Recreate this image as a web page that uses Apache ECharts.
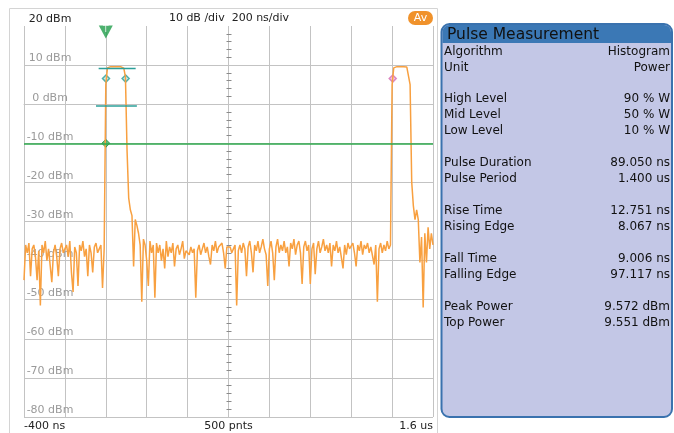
<!DOCTYPE html>
<html lang="en">
<head>
<meta charset="UTF-8">
<title>Pulse Measurement</title>
<style>
    html, body { margin: 0; padding: 0; background: #fff; }
    #app { width: 674px; height: 433px; }
</style>
</head>
<body>
<div id="app"></div>
<script src="https://cdn.jsdelivr.net/npm/echarts@6.0.0/dist/echarts.min.js"></script>
<script>
    // trace: 8 ns per sample starting at -400 ns, one row per 200 ns division (dBm)
    var T0 = -400, DT = 8;
    var div0 = [-45, -36, -38, -35.5, -44, -37, -36, -39, -45, -37.5, -51.5, -36, -38, -35, -40, -37, -36.5, -45.5, -38, -36, -39, -44, -37, -35.5, -38];
    var div1 = [-37, -36, -39, -35, -43, -48, -36.5, -38, -46.5, -36, -37.5, -35, -39, -37, -44, -36, -38, -43, -36.5, -35.5, -38, -37, -36, -47, -37];
    var div2 = [5, 9.3, 9.6, 9.6, 9.5, 9.6, 9.5, 9.6, 9.5, 9.6, 9.5, 9.2, 7, -12, -24, -27, -28.5, -41.5, -29.5, -31, -33, -36, -50.5, -34.5, -36];
    var div3 = [-40, -46.5, -35, -38, -36, -49.5, -35.5, -38, -36, -40, -37, -42, -35, -39, -36.5, -38, -35.5, -41.5, -37, -36, -38.5, -37, -35, -39.5, -37.5];
    var div4 = [-37, -38.5, -36.5, -38, -37, -49.5, -37.5, -36, -38.5, -37, -35.5, -38, -36.5, -39, -41, -36, -37.5, -35, -38, -36.5, -37, -35.5, -38, -42, -36.5];
    var div5 = [-37, -36.5, -38, -37, -36, -51.5, -37.5, -36, -38, -35.5, -37, -44, -36.5, -35, -38, -43, -36, -37.5, -35, -38, -36.5, -34.5, -37, -38.5, -46.5];
    var div6 = [-37, -35, -38, -45, -36.5, -34.5, -38, -36, -37.5, -35, -38, -36.5, -41.5, -35.5, -37, -34.5, -38.5, -36, -35, -38, -46, -36.5, -35, -37.5, -36];
    var div7 = [-46, -37, -35.5, -43.5, -37, -35, -38, -36.5, -34.5, -37.5, -36, -38, -35.5, -41.5, -36, -37.5, -35, -38, -36.5, -37, -42, -36, -38.5, -35.5, -37];
    var div8 = [-37, -35.5, -38, -41.5, -36, -37.5, -35, -38.5, -36, -37, -35.5, -38, -36.5, -37, -41, -36, -50.5, -37, -35.5, -38, -36, -37.5, -35, -37, -36];
    var div9 = [5, 9.3, 9.5, 9.6, 9.5, 9.6, 9.5, 9.6, 9.5, 9.5, 9.3, 5, -20, -26, -29.5, -27, -29.5, -40.5, -34, -52, -33, -40.5, -31.5, -37, -33, -36];

    // measurement markers
    var highLine = [[-35, 9.1], [146, 9.1]];
    var lowLine = [[-48, -0.45], [152, -0.45]];
    var midPoints = [[1, 6.55], [97, 6.55]];
    var pulse2Point = [[1403, 6.55]];
    var trigLevel = -10;
    var trigTime = 0;

    // axis text
    var xTickValues = [-400, 600, 1600];
    var xTickText = ['-400 ns', '500 pnts', '1.6 us'];

    // side panel
    var panelLabels = ['Algorithm', 'Unit', '', 'High Level', 'Mid Level', 'Low Level', '',
        'Pulse Duration', 'Pulse Period', '', 'Rise Time', 'Rising Edge', '',
        'Fall Time', 'Falling Edge', '', 'Peak Power', 'Top Power'];
    var panelValues = ['Histogram', 'Power', '', '90 % W', '50 % W', '10 % W', '',
        '89.050 ns', '1.400 us', '', '12.751 ns', '8.067 ns', '',
        '9.006 ns', '97.117 ns', '', '9.572 dBm', '9.551 dBm'];

    var trace = [].concat(div0, div1, div2, div3, div4, div5, div6, div7, div8, div9)
        .map(function (v, i) { return [T0 + i * DT, v]; });

    var FONT = 'DejaVu Sans';
    var GRID_C = '#c3c3c3';

    var graphics = [
        { type: 'rect', shape: { x: 9.5, y: 8.5, width: 428, height: 430 }, style: { fill: null, stroke: '#d4d4d4', lineWidth: 1 }, silent: true },
        { type: 'text', x: 229, y: 18, style: { text: '10 dB /div  200 ns/div', align: 'center', verticalAlign: 'middle', fill: '#222', fontSize: 11, fontFamily: FONT } },
        { type: 'rect', shape: { x: 408, y: 11, width: 25, height: 14, r: 7 }, style: { fill: '#f0922b' } },
        { type: 'text', x: 420.5, y: 18, style: { text: 'Av', align: 'center', verticalAlign: 'middle', fill: '#fff', fontSize: 11, fontFamily: FONT } },
        // panel
        { type: 'rect', shape: { x: 441.5, y: 24, width: 230.5, height: 393, r: 8 }, style: { fill: '#c3c7e6', stroke: '#3a72ae', lineWidth: 2 } },
        { type: 'rect', shape: { x: 442.5, y: 25, width: 228.5, height: 18, r: [7, 7, 0, 0] }, style: { fill: '#3b78b5' } },
        { type: 'text', x: 447, y: 34.5, style: { text: 'Pulse Measurement', verticalAlign: 'middle', fill: '#111', fontSize: 15.5, fontFamily: FONT } }
    ];
    panelLabels.forEach(function (lab, k) {
        if (!lab) return;
        var y = 51.5 + k * 15.95;
        graphics.push({ type: 'text', x: 444, y: y, style: { text: lab, verticalAlign: 'middle', fill: '#111', fontSize: 12, fontFamily: FONT } });
        graphics.push({ type: 'text', x: 670, y: y, style: { text: panelValues[k], align: 'right', verticalAlign: 'middle', fill: '#111', fontSize: 12, fontFamily: FONT } });
    });

    var chart = echarts.init(document.getElementById('app'));
    var option = {
        animation: false,
        textStyle: { fontFamily: FONT },
        grid: { left: 24, right: 241, top: 26, bottom: 16 },
        xAxis: {
            type: 'value', min: -400, max: 1600, interval: 200,
            axisLine: { show: true, lineStyle: { color: GRID_C } },
            axisTick: { show: false },
            splitLine: { show: true, lineStyle: { color: GRID_C, width: 1 } },
            axisLabel: {
                color: '#222', fontSize: 11, margin: 4,
                alignMinLabel: 'left', alignMaxLabel: 'right',
                formatter: function (v) {
                    var k = xTickValues.indexOf(v);
                    return k < 0 ? '' : xTickText[k];
                }
            }
        },
        yAxis: [{
            type: 'value', min: -80, max: 20, interval: 10,
            axisLine: { show: true, lineStyle: { color: GRID_C } },
            axisTick: { show: false },
            splitLine: { show: true, showMaxLine: false, lineStyle: { color: GRID_C, width: 1 } },
            axisLabel: {
                inside: true, margin: 26, align: 'center', verticalAlign: 'bottom',
                color: '#9a9a9a', fontSize: 11, padding: [0, 0, 1, 0],
                formatter: function (v) { return v === 20 ? '{top|20 dBm}' : v + ' dBm'; },
                rich: { top: { color: '#222', fontSize: 11 } }
            }
        }, {
            type: 'value', min: -80, max: 20, interval: 10, position: 'left', offset: -205,
            axisLine: { show: false }, axisTick: { show: false, inside: true },
            axisLabel: { show: false }, splitLine: { show: false },
            minorTick: { show: true, splitNumber: 5, length: 2.5, lineStyle: { color: '#8a8a8a' } }
        }, {
            type: 'value', min: -80, max: 20, interval: 10, position: 'left', offset: -205,
            axisLine: { show: false }, axisTick: { show: false, inside: false },
            axisLabel: { show: false }, splitLine: { show: false },
            minorTick: { show: true, splitNumber: 5, length: 2.5, lineStyle: { color: '#8a8a8a' } }
        }],
        graphic: graphics,
        series: [{
            type: 'line', data: trace, showSymbol: false,
            lineStyle: { color: '#f8a040', width: 1.5 },
            markLine: {
                silent: true, symbol: 'none', label: { show: false },
                lineStyle: { color: '#2ea84c', width: 1.5, type: 'solid' },
                data: [{ yAxis: trigLevel }]
            }
        }, {
            type: 'line', data: highLine, showSymbol: false,
            lineStyle: { color: '#2b9f99', width: 1.5 }
        }, {
            type: 'line', data: lowLine, showSymbol: false,
            lineStyle: { color: '#2b9f99', width: 1.5 }
        }, {
            type: 'scatter', data: midPoints, symbol: 'diamond', symbolSize: 7,
            itemStyle: { color: '#bfe8e2', borderColor: '#2b9f99', borderWidth: 1.5 }
        }, {
            type: 'scatter', data: pulse2Point, symbol: 'diamond', symbolSize: 7,
            itemStyle: { color: '#f1b6dc', borderColor: '#d46fb4', borderWidth: 1.5 }
        }, {
            type: 'scatter', data: [[trigTime, trigLevel]], symbol: 'diamond', symbolSize: 8,
            itemStyle: { color: '#3cb35a', borderColor: '#22883c', borderWidth: 1 }
        }, {
            type: 'scatter', data: [[trigTime, 20]], clip: false,
            symbol: 'path://M0,0L14,0L7,13Z', symbolSize: [14, 13], symbolOffset: [0, 6],
            itemStyle: { color: '#1f9e4a' },
            label: { show: true, position: 'inside', formatter: 'T', color: '#fff', fontSize: 9, offset: [0, -2] }
        }]
    };
    chart.setOption(option);
</script>
</body>
</html>
